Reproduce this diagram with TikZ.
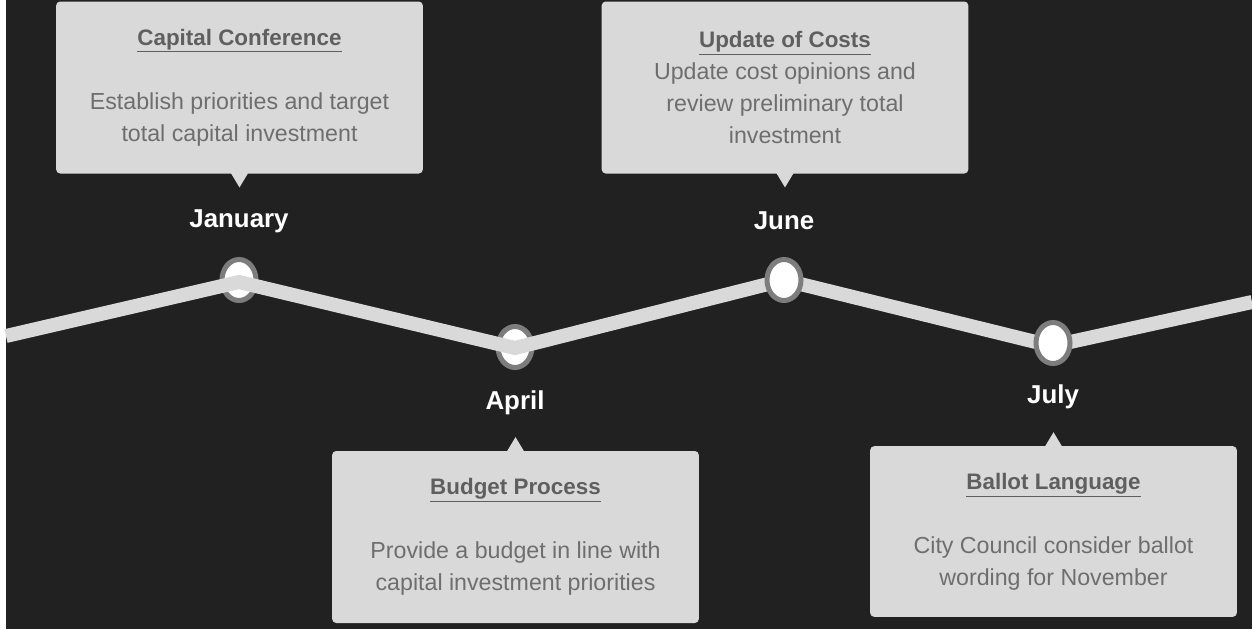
\documentclass[tikz,border=0pt]{standalone}
\usepackage{fontspec}
\setmainfont{Liberation Sans}
\usetikzlibrary{shapes.geometric, positioning}
\definecolor{bgdark}{HTML}{212121}
\definecolor{boxgray}{HTML}{D9D9D9}
\definecolor{titlegray}{HTML}{5F5F5F}
\definecolor{bodygray}{HTML}{6E6E6E}
\definecolor{ringgray}{HTML}{7D7D7D}
\newcommand{\StageTitle}[1]{{\color{titlegray}\fontsize{16.8}{24}\selectfont\bfseries\underline{#1}}}

\tikzset{
    stagebox/.style={fill=boxgray, rounded corners=3pt, inner sep=0pt,
        minimum width=275pt, minimum height=129pt, align=center,
        text=bodygray, font=\fontsize{17.4}{24}\selectfont},
    month/.style={text=white, inner sep=0pt, font=\fontsize{19.4}{22}\selectfont\bfseries},
    track/.style={boxgray, line width=10.5pt},
    ring/.style={ellipse, draw=ringgray, fill=white, line width=3.75pt,
        minimum width=25.5pt, minimum height=30.75pt, inner sep=0pt},
}

\begin{document}
\begin{tikzpicture}[x=0.75pt, y=-0.75pt]
    \useasboundingbox (0,0) rectangle (1252,629);
    \fill[white] (0,0) rectangle (1252,629);
    \fill[bgdark] (6,0) rectangle (1252,629);

    \coordinate (T0) at (6, 336);
    \coordinate (T1) at (239, 282);
    \coordinate (T2) at (515, 348);
    \coordinate (T3) at (784, 280);
    \coordinate (T4) at (1052, 346);
    \coordinate (T5) at (1252, 302);

    % rings the track runs over
    \node[ring] (janring) at (239, 280) {};
    \node[ring] (aprring) at (515, 347) {};
    \draw[track] (T0) -- (T1) -- (T2) -- (T3) -- (T4) -- (T5);
    \node[ring] (junring) at (784, 280) {};
    \node[ring] (julring) at (1053, 343) {};

    \node[month] (janlbl) at (239, 221) {January};
    \node[month] (junlbl) at (784, 221) {June};
    \node[month] (aprlbl) at (515, 403) {April};
    \node[month] (jullbl) at (1053, 397) {July};

    \node[stagebox] (capbox) at (239.5, 87.5)
        {\StageTitle{Capital Conference}\\ ~\\ Establish priorities and target\\ total capital investment};
    \node[stagebox] (costbox) at (785, 87.5)
        {\StageTitle{Update of Costs}\\ Update cost opinions and\\ review preliminary total\\ investment};
    \node[stagebox] (budbox) at (515.5, 537)
        {\StageTitle{Budget Process}\\ ~\\ Provide a budget in line with\\ capital investment priorities};
    \node[stagebox, minimum height=128pt] (balbox) at (1053.5, 531.5)
        {\StageTitle{Ballot Language}\\ ~\\ City Council consider ballot\\ wording for November};

    \fill[boxgray] ([xshift=-9*0.75pt, yshift=1pt]capbox.south) -- ++(9,15) -- ++(9,-15) -- cycle;
    \fill[boxgray] ([xshift=-9*0.75pt, yshift=1pt]costbox.south) -- ++(9,15) -- ++(9,-15) -- cycle;
    \fill[boxgray] ([xshift=-9*0.75pt, yshift=-1pt]budbox.north) -- ++(9,-15) -- ++(9,15) -- cycle;
    \fill[boxgray] ([xshift=-9*0.75pt, yshift=-1pt]balbox.north) -- ++(9,-15) -- ++(9,15) -- cycle;
\end{tikzpicture}
\end{document}
